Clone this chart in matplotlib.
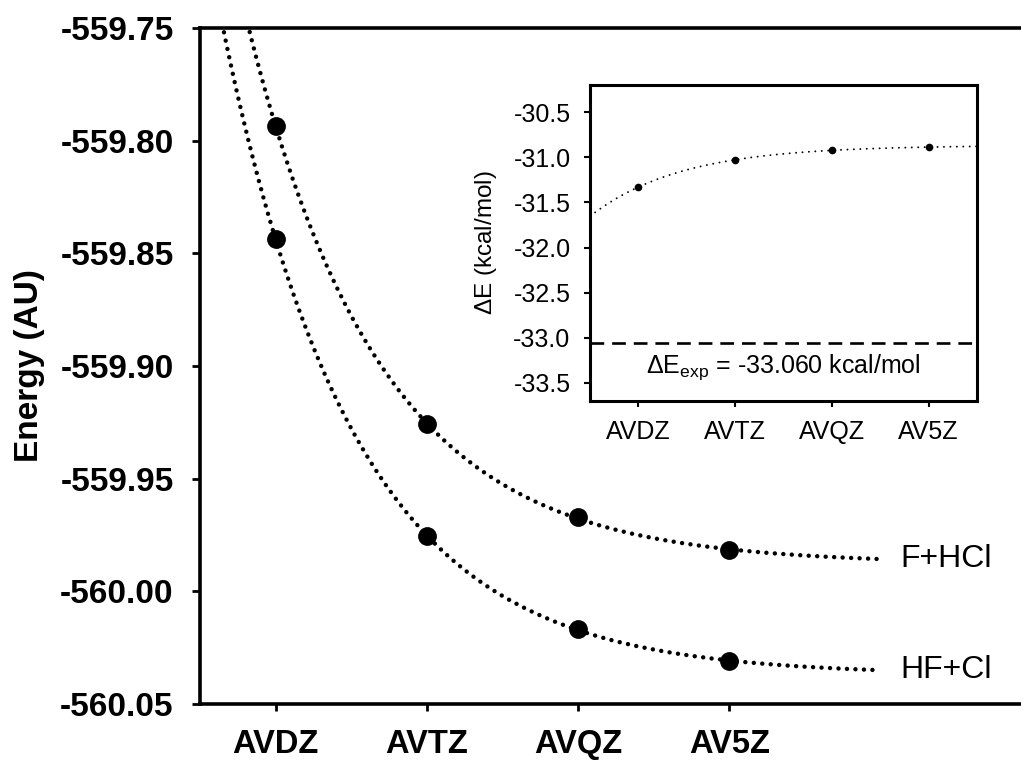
import numpy as np
import matplotlib
matplotlib.use('Agg')
import matplotlib.pyplot as plt
from matplotlib.ticker import FormatStrFormatter, MultipleLocator

plt.rcParams['font.family'] = ['Liberation Sans', 'DejaVu Sans']
plt.rcParams['mathtext.fontset'] = 'custom'
plt.rcParams['mathtext.rm'] = 'Liberation Sans'
plt.rcParams['axes.unicode_minus'] = False

# basis sets (cardinal number 2..5)
basis = ['AVDZ', 'AVTZ', 'AVQZ', 'AV5Z']
n_card = [2, 3, 4, 5]

# total energies (AU)
e_f_hcl = [-559.7935, -559.9257, -559.9671, -559.9817]
e_hf_cl = [-559.8438, -559.9753, -560.0169, -560.0309]

# reaction energy (kcal/mol), inset
de = [-31.33, -31.03, -30.92, -30.89]
de_exp = -33.060


def exp_fit(x, y):
    # E(n) = a + b*exp(-c*n), best c by scan, a and b by least squares
    x = np.asarray(x, float)
    y = np.asarray(y, float)
    best = None
    for c in np.linspace(0.2, 4.0, 3000):
        A = np.column_stack([np.ones_like(x), np.exp(-c * x)])
        coef, res, _, _ = np.linalg.lstsq(A, y, rcond=None)
        r = np.sum((A @ coef - y) ** 2)
        if best is None or r < best[0]:
            best = (r, coef[0], coef[1], c)
    _, a, b, c = best
    return lambda t: a + b * np.exp(-c * np.asarray(t, float))


fig = plt.figure(figsize=(10.21, 7.62), dpi=100)
ax = fig.add_axes([200 / 1021, 58 / 762, 831.6 / 1021, 676 / 762])

dot = dict(color='black', lw=3.2, linestyle=(0, (0.01, 1.9)), dash_capstyle='round')
xs = np.linspace(1.5, 6.0, 400)
for e, lab in [(e_f_hcl, 'F+HCl'), (e_hf_cl, 'HF+Cl')]:
    f = exp_fit(n_card, e)
    ax.plot(xs, f(xs), **dot)
    ax.plot(n_card, e, 'o', color='black', markersize=12.5, linestyle='none')
    ax.text(6.13, f(6.0), lab, fontsize=23, va='center', ha='left')

ax.set_xlim(1.5, 7.0)
ax.set_ylim(-560.05, -559.75)
ax.yaxis.set_major_locator(MultipleLocator(0.05))
ax.yaxis.set_major_formatter(FormatStrFormatter('%.2f'))
ax.set_xticks(n_card)
ax.set_xticklabels(basis)
for lbl in ax.get_xticklabels() + ax.get_yticklabels():
    lbl.set_fontweight('bold')
ax.tick_params(axis='y', direction='out', length=6, width=2, labelsize=24, pad=13)
ax.tick_params(axis='x', direction='out', length=5, width=2, labelsize=23.5, pad=13)
for s in ax.spines.values():
    s.set_linewidth(2.6)
ax.set_ylabel('Energy (AU)', fontsize=24, fontweight='bold', labelpad=11)

# inset
ax2 = fig.add_axes([590 / 1021, 361 / 762, 387 / 1021, 316 / 762])
xi = np.linspace(1.5, 5.5, 300)
fi = exp_fit(n_card, de)
ax2.plot(xi, fi(xi), color='black', lw=1.4, linestyle=(0, (0.01, 3.3)), dash_capstyle='round')
ax2.plot(n_card, de, 'o', color='black', markersize=4.5, linestyle='none')
ax2.axhline(de_exp, color='black', lw=1.9, linestyle=(0, (5.2, 3.0)))
ax2.text(0.5, 0.09, r'$\Delta$E$_{\mathrm{exp}}$ = -33.060 kcal/mol', transform=ax2.transAxes,
         ha='center', va='baseline', fontsize=18)
ax2.set_xlim(1.5, 5.5)
ax2.set_ylim(-33.7, -30.2)
ax2.yaxis.set_major_locator(MultipleLocator(0.5))
ax2.yaxis.set_major_formatter(FormatStrFormatter('%.1f'))
ax2.set_xticks(n_card)
ax2.set_xticklabels(basis)
ax2.tick_params(direction='out', length=4, width=1.5, labelsize=18, pad=10)
for s in ax2.spines.values():
    s.set_linewidth(2.2)
ax2.set_ylabel(r'$\Delta$E (kcal/mol)', fontsize=17.5, labelpad=10)

fig.savefig('out.png', dpi=100)
